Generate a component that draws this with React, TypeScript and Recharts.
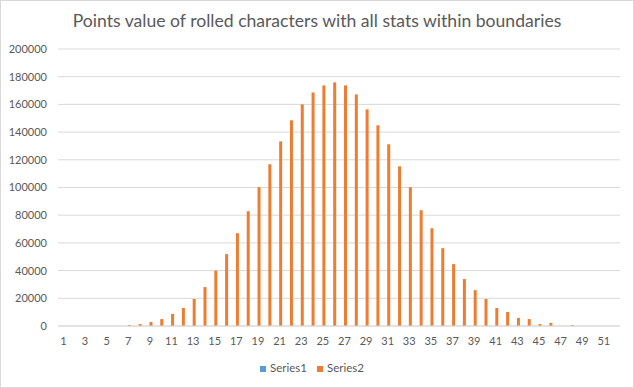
import { BarChart, Bar, XAxis, YAxis, CartesianGrid, Legend } from "recharts";

const categories = [
  1, 2, 3, 4, 5, 6, 7, 8, 9, 10, 11, 12, 13, 14, 15, 16, 17, 18, 19, 20, 21,
  22, 23, 24, 25, 26, 27, 28, 29, 30, 31, 32, 33, 34, 35, 36, 37, 38, 39, 40,
  41, 42, 43, 44, 45, 46, 47, 48, 49, 50, 51, 52,
];

const series1 = [
  0, 0, 0, 0, 0, 0, 0, 0, 0, 0, 0, 0, 0, 0, 0, 0, 0, 0, 0, 0, 0, 0, 0, 0, 0,
  0, 0, 0, 0, 0, 0, 0, 0, 0, 0, 0, 0, 0, 0, 0, 0, 0, 0, 0, 0, 0, 0, 0, 0, 0,
  0, 0,
];

const series2 = [
  0, 0, 0, 0, 0, 0, 700, 1400, 2900, 5000, 8700, 13000, 19500, 28100, 40000,
  51900, 67000, 82900, 100200, 116800, 133300, 148500, 160000, 168600, 173700,
  175900, 173700, 167200, 156400, 144900, 131200, 115300, 100200, 83600, 70600,
  56200, 44700, 33900, 25900, 19500, 13000, 10100, 5800, 5000, 1400, 2200, 0,
  700, 0, 0, 0, 0,
];

const yTicks = [
  0, 20000, 40000, 60000, 80000, 100000, 120000, 140000, 160000, 180000,
  200000,
];

const data = categories.map((c, i) => ({
  name: String(c),
  Series1: series1[i],
  Series2: series2[i],
}));

const font = "Lato, 'Liberation Sans', sans-serif";
const tickStyle = { fontSize: 11, fill: "#595959", fontFamily: font };

export default function App() {
  return (
    <div
      style={{
        position: "absolute",
        left: 0,
        top: 0,
        width: 634,
        height: 388,
        boxSizing: "border-box",
        border: "1px solid #d9d9d9",
        background: "#fff",
        fontFamily: font,
      }}
    >
      <div
        style={{
          position: "absolute",
          top: 9,
          left: 0,
          width: 632,
          textAlign: "center",
          fontSize: 17.6,
          color: "#595959",
        }}
      >
        Points value of rolled characters with all stats within boundaries
      </div>
      <BarChart
        width={632}
        height={386}
        data={data}
        barSize={3}
        barGap={0}
        margin={{ top: 48, right: 13, bottom: 37, left: 0 }}
        style={{ position: "absolute", left: 0, top: 0 }}
      >
        <CartesianGrid vertical={false} stroke="#d9d9d9" />
        <XAxis
          dataKey="name"
          interval={1}
          tickLine={false}
          tickSize={0}
          tickMargin={11}
          axisLine={{ stroke: "#d9d9d9" }}
          tick={tickStyle}
          height={24}
        />
        <YAxis
          domain={[0, 200000]}
          ticks={yTicks}
          width={57}
          axisLine={false}
          tickLine={false}
          tickSize={0}
          tickMargin={11}
          tick={tickStyle}
        />
        <Legend
          verticalAlign="middle"
          align="center"
          layout="horizontal"
          iconType="square"
          iconSize={6}
          wrapperStyle={{ top: 360, left: 0, width: 632, fontSize: 11.5 }}
          formatter={(value) => (
            <span style={{ color: "#595959" }}>{value}</span>
          )}
        />
        <Bar dataKey="Series1" fill="#5b9bd5" isAnimationActive={false} />
        <Bar dataKey="Series2" fill="#ed7d31" isAnimationActive={false} />
      </BarChart>
    </div>
  );
}
